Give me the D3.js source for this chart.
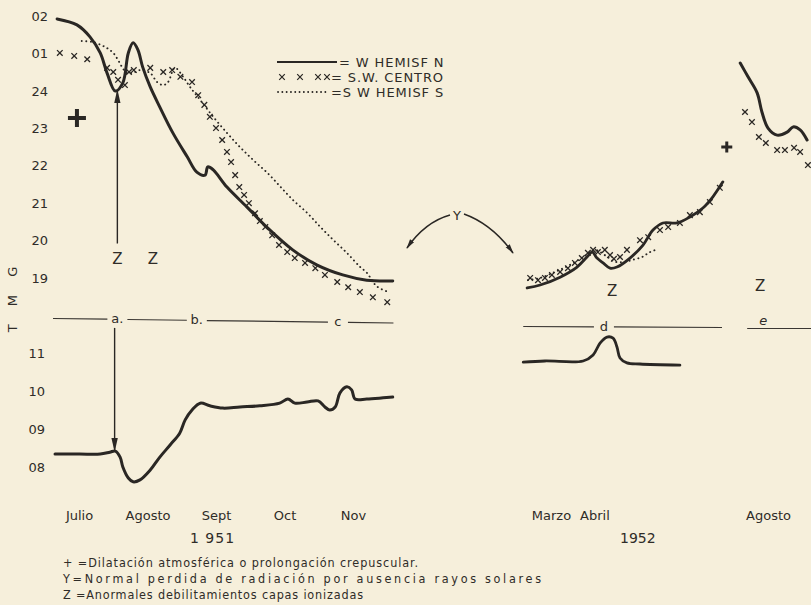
<!DOCTYPE html>
<html><head><meta charset="utf-8">
<script src="https://cdn.jsdelivr.net/npm/d3@7"></script>
<style>
html,body{margin:0;padding:0;background:#f6efdb;}
svg{display:block;}
text{font-family:"DejaVu Sans","Noto Sans",sans-serif;fill:#2f2c28;}
</style></head><body>
<svg id="chart" width="811" height="605"></svg>
<script>
// ---------- DATA ----------
const hourTicks = [19, 20, 21, 22, 23, 24, 25, 26];   // 25 -> "01", 26 -> "02"
const lowTicks = [8, 9, 10, 11];
const months1951 = ["Julio", "Agosto", "Sept", "Oct", "Nov"];
const monthPos1951 = [7.5, 8.5, 9.5, 10.5, 11.5];
const months1952 = ["Marzo", "Abril", "Agosto"];
const monthPos1952 = [3.5, 4.5, 8.5];
const legendLabels = ["= W  HEMISF N", "= S.W. CENTRO", "=S W HEMISF S"];
const footnotes = [
  "+ =Dilatación atmosférica  o prolongación  crepuscular.",
  "Y=Normal perdida de radiación por ausencia rayos  solares",
  "Z =Anormales  debilitamientos capas ionizadas"
];

// 1951 upper panel  [month, hour]
const wHemisfN_1951 = [[7.18,25.93],[7.47,25.77],[7.66,25.45],[7.81,25.02],[7.91,24.48],[8.03,24.0],[8.14,24.22],[8.22,25.02],[8.29,25.29],[8.36,25.10],[8.43,24.64],[8.54,24.11],[8.68,23.57],[8.87,22.88],[9.08,22.24],[9.22,21.83],[9.34,21.75],[9.38,21.97],[9.46,21.89],[9.66,21.43],[9.95,20.90],[10.24,20.36],[10.62,19.75],[10.97,19.35],[11.35,19.08],[11.70,18.94],[12.08,18.92]];
const swCentro_1951 = [[7.22,25.02],[7.43,24.94],[7.62,24.85],[7.91,24.62],[8.0,24.51],[8.07,24.30],[8.17,24.16],[8.23,24.51],[8.30,24.56],[8.54,24.62],[8.73,24.51],[8.86,24.56],[8.98,24.38],[9.15,24.24],[9.24,23.89],[9.33,23.63],[9.41,23.31],[9.50,23.01],[9.59,22.69],[9.66,22.37],[9.72,22.10],[9.78,21.75],[9.84,21.43],[9.91,21.22],[9.98,21.0],[10.07,20.73],[10.14,20.52],[10.22,20.36],[10.32,20.14],[10.42,19.88],[10.54,19.69],[10.65,19.53],[10.80,19.40],[10.95,19.26],[11.09,19.08],[11.27,18.89],[11.43,18.75],[11.60,18.62],[11.79,18.48],[12.0,18.35]];
const swHemisfS_1951 = [[7.54,25.34],[7.70,25.31],[7.88,25.18],[8.0,25.02],[8.07,24.83],[8.13,24.64],[8.20,24.48],[8.32,24.51],[8.39,24.56],[8.54,24.48],[8.64,24.24],[8.73,24.16],[8.80,24.24],[8.90,24.62],[9.02,24.38],[9.12,24.11],[9.27,23.76],[9.46,23.31],[9.66,22.88],[9.85,22.50],[10.04,22.16],[10.25,21.81],[10.44,21.44],[10.62,21.09],[10.83,20.74],[11.02,20.37],[11.21,20.02],[11.41,19.67],[11.60,19.30],[11.70,19.14],[11.85,18.77],[12.04,18.61]];
// 1951 lower panel [month, value]
const lower_1951 = [[7.15,8.34],[7.51,8.34],[7.81,8.34],[7.95,8.39],[8.03,8.42],[8.10,8.26],[8.14,8.0],[8.22,7.71],[8.29,7.61],[8.39,7.66],[8.54,7.92],[8.68,8.26],[8.83,8.58],[8.97,8.89],[9.05,9.24],[9.15,9.50],[9.27,9.68],[9.41,9.61],[9.60,9.55],[9.85,9.58],[10.14,9.61],[10.43,9.68],[10.55,9.79],[10.65,9.68],[10.83,9.71],[10.99,9.74],[11.09,9.58],[11.16,9.50],[11.24,9.58],[11.31,9.95],[11.41,10.11],[11.48,10.03],[11.53,9.79],[11.70,9.79],[11.94,9.82],[12.08,9.84]];

// 1952 (March - July) upper panel
const wHemisfN_1952a = [[2.95,18.73],[3.25,18.81],[3.71,19.02],[4.10,19.29],[4.33,19.56],[4.45,19.69],[4.56,19.53],[4.70,19.40],[4.86,19.26],[5.02,19.29],[5.32,19.53],[5.62,19.88],[5.85,20.28],[6.08,20.47],[6.40,20.47],[6.70,20.63],[7.0,20.87],[7.23,21.17],[7.46,21.57]];
const swCentro_1952a = [[3.02,19.0],[3.20,18.94],[3.36,19.0],[3.52,19.08],[3.71,19.16],[3.89,19.26],[4.05,19.40],[4.21,19.53],[4.35,19.67],[4.47,19.75],[4.58,19.69],[4.74,19.75],[4.86,19.61],[4.95,19.51],[5.09,19.56],[5.25,19.75],[5.55,20.01],[5.74,20.09],[6.01,20.28],[6.20,20.36],[6.47,20.47],[6.70,20.68],[6.93,20.76],[7.16,21.03],[7.39,21.41]];
const swHemisfS_1952a = [[2.97,18.94],[3.25,19.0],[3.59,19.16],[3.94,19.35],[4.28,19.59],[4.51,19.75],[4.74,19.61],[4.98,19.43],[5.21,19.43],[5.37,19.48],[5.60,19.56],[5.78,19.69],[5.97,19.77]];
// 1952 (August) upper panel
const wHemisfN_1952b = [[7.86,24.75],[8.04,24.38],[8.25,23.95],[8.36,23.44],[8.50,23.01],[8.71,22.82],[8.94,22.90],[9.08,23.04],[9.24,22.96],[9.40,22.69]];
const swCentro_1952b = [[7.97,23.44],[8.13,23.17],[8.29,22.77],[8.45,22.61],[8.71,22.42],[8.89,22.42],[9.10,22.48],[9.24,22.37],[9.42,22.02]];
// 1952 lower panel
const lower_1952 = [[2.86,10.76],[3.36,10.79],[4.24,10.79],[4.47,10.95],[4.63,11.26],[4.79,11.42],[4.93,11.39],[5.02,11.16],[5.09,10.87],[5.25,10.74],[5.55,10.71],[6.47,10.68]];

// annotations (data units)
const plus1951 = [[7.47, 23.28]];
const plus1952 = [[7.55, 22.50]];
const zMarks1951 = [[8.06, 19.53], [8.58, 19.53]];
const zMarks1952 = [[4.91, 18.68], [8.32, 18.81]];
const periods1951 = [["a.", 8.06], ["b.", 9.22], ["c", 11.28]];
const periods1952 = [["d", 4.72]];

// ---------- SCALES ----------
const svg = d3.select("#chart");
const ink = "#2a2724";
const x51 = d3.scaleLinear().domain([7, 12]).range([44.75, 387.25]);
const x52 = d3.scaleLinear().domain([3, 9]).range([529.3, 789.7]);
const yU = d3.scaleLinear().domain([19, 26]).range([277.9, 16.3]);
const yL = d3.scaleLinear().domain([8, 11]).range([467, 353]);

svg.append("rect").attr("width", 811).attr("height", 605).attr("fill", "#f6efdb");

// ---------- AXES ----------
const hourFmt = h => h > 24 ? d3.format("02d")(h - 24) : String(h);
function styleAxis(g, size) {
  g.select(".domain").remove();
  g.selectAll("text").attr("font-family", "DejaVu Sans, sans-serif").attr("font-size", size).attr("fill", "#2f2c28");
  g.attr("font-family", null);
}
svg.append("g").attr("transform", "translate(48,0)")
  .call(d3.axisLeft(yU).tickValues(hourTicks).tickFormat(hourFmt).tickSize(0).tickPadding(0))
  .call(g => styleAxis(g, 13));
svg.append("g").attr("transform", "translate(45,0)")
  .call(d3.axisLeft(yL).tickValues(lowTicks).tickFormat(d3.format("02d")).tickSize(0).tickPadding(0))
  .call(g => styleAxis(g, 13));
svg.append("g").attr("transform", "translate(0,511)")
  .call(d3.axisBottom(x51).tickValues(monthPos1951).tickFormat((d, i) => months1951[i]).tickSize(0).tickPadding(0))
  .call(g => styleAxis(g, 13));
svg.append("g").attr("transform", "translate(0,511)")
  .call(d3.axisBottom(x52).tickValues(monthPos1952).tickFormat((d, i) => months1952[i]).tickSize(0).tickPadding(0))
  .call(g => styleAxis(g, 13));

svg.append("text").attr("x", x51(9.45)).attr("y", 543).attr("text-anchor", "middle")
  .attr("font-size", 14).attr("letter-spacing", 1).text("1 951");
svg.append("text").attr("x", x52(5.5)).attr("y", 543).attr("text-anchor", "middle")
  .attr("font-size", 14).text("1952");

svg.append("text").attr("transform", "translate(17,296) rotate(-90)").attr("text-anchor", "middle")
  .attr("font-size", 13).attr("letter-spacing", 7).text("T M G");

// ---------- MARKS ----------
const solid = (xs, ys) => d3.line().x(d => xs(d[0])).y(d => ys(d[1])).curve(d3.curveCatmullRom.alpha(0.5));
function drawSolid(data, xs, ys, w) {
  svg.append("path").datum(data).attr("d", solid(xs, ys)).attr("fill", "none")
    .attr("stroke", ink).attr("stroke-width", w || 3).attr("stroke-linecap", "round").attr("stroke-linejoin", "round");
}
function drawDotted(data, xs, ys) {
  svg.append("path").datum(data).attr("d", solid(xs, ys)).attr("fill", "none")
    .attr("stroke", ink).attr("stroke-width", 1.9).attr("stroke-linecap", "round")
    .attr("stroke-dasharray", "0.1 4.4");
}
const crossPath = "M-2.8,-2.8L2.8,2.8M-2.8,2.8L2.8,-2.8";
function drawCrosses(data, xs, ys) {
  svg.append("g").selectAll("path").data(data).join("path")
    .attr("transform", d => `translate(${xs(d[0])},${ys(d[1])})`)
    .attr("d", crossPath).attr("stroke", ink).attr("stroke-width", 1.3).attr("fill", "none");
}

drawDotted(swHemisfS_1951, x51, yU);
drawCrosses(swCentro_1951, x51, yU);
drawSolid(wHemisfN_1951, x51, yU);
drawSolid(lower_1951, x51, yL);

drawDotted(swHemisfS_1952a, x52, yU);
drawCrosses(swCentro_1952a, x52, yU);
drawSolid(wHemisfN_1952a, x52, yU, 2.8);
drawSolid(wHemisfN_1952b, x52, yU);
drawCrosses(swCentro_1952b, x52, yU);
drawSolid(lower_1952, x52, yL, 2.8);

// plus signs
function drawPlus(data, xs, ys, s, w) {
  svg.append("g").selectAll("path").data(data).join("path")
    .attr("transform", d => `translate(${xs(d[0])},${ys(d[1])})`)
    .attr("d", `M${-s},0L${s},0M0,${-s}L0,${s}`).attr("stroke", ink).attr("stroke-width", w);
}
drawPlus(plus1951, x51, yU, 9, 4);
drawPlus(plus1952, x52, yU, 5.5, 3);

// Z labels
svg.append("g").selectAll("text").data(zMarks1951).join("text")
  .attr("x", d => x51(d[0])).attr("y", d => yU(d[1]) + 6).attr("text-anchor", "middle").attr("font-size", 15).text("Z");
svg.append("g").selectAll("text").data(zMarks1952).join("text")
  .attr("x", d => x52(d[0])).attr("y", d => yU(d[1]) + 6).attr("text-anchor", "middle").attr("font-size", 15).text("Z");

// arrows
const defs = svg.append("defs");
defs.append("marker").attr("id", "ah").attr("viewBox", "0 0 14 8").attr("refX", 13).attr("refY", 4)
  .attr("markerWidth", 14).attr("markerHeight", 8).attr("markerUnits", "userSpaceOnUse").attr("orient", "auto")
  .append("path").attr("d", "M0,0.8L14,4L0,7.2Z").attr("fill", ink);
defs.append("marker").attr("id", "ahs").attr("viewBox", "0 0 10 6").attr("refX", 9).attr("refY", 3)
  .attr("markerWidth", 10).attr("markerHeight", 6).attr("markerUnits", "userSpaceOnUse").attr("orient", "auto")
  .append("path").attr("d", "M0,0.5L10,3L0,5.5Z").attr("fill", ink);

svg.append("line").attr("x1", x51(8.06)).attr("x2", x51(8.06)).attr("y1", yU(19.92)).attr("y2", yU(24.02))
  .attr("stroke", ink).attr("stroke-width", 1.4).attr("marker-end", "url(#ah)");
svg.append("line").attr("x1", x51(8.02)).attr("x2", x51(8.02)).attr("y1", yL(11.66)).attr("y2", yL(8.42))
  .attr("stroke", ink).attr("stroke-width", 1.4).attr("marker-end", "url(#ah)");

// Y annotation with two arcs
svg.append("text").attr("x", 457).attr("y", 220).attr("text-anchor", "middle").attr("font-size", 13).text("Y");
svg.append("path").attr("d", "M450,215 Q425,222 407,248").attr("fill", "none").attr("stroke", ink)
  .attr("stroke-width", 1.5).attr("marker-end", "url(#ahs)");
svg.append("path").attr("d", "M464,214 Q492,224 513,253").attr("fill", "none").attr("stroke", ink)
  .attr("stroke-width", 1.5).attr("marker-end", "url(#ahs)");

// period separator lines
function periodLine(periods, xs, x0, x1, yA, yB) {
  const yAt = x => yA + (yB - yA) * (x - xs(x0)) / (xs(x1) - xs(x0));
  let start = xs(x0);
  const gap = 10;
  periods.forEach(([lab, m]) => {
    const cx = xs(m);
    svg.append("line").attr("x1", start).attr("x2", cx - gap).attr("y1", yAt(start)).attr("y2", yAt(cx - gap))
      .attr("stroke", "#3a3632").attr("stroke-width", 1.2);
    svg.append("text").attr("x", cx).attr("y", yAt(cx) + 4).attr("text-anchor", "middle").attr("font-size", 13).text(lab);
    start = cx + gap;
  });
  svg.append("line").attr("x1", start).attr("x2", xs(x1)).attr("y1", yAt(start)).attr("y2", yAt(xs(x1)))
    .attr("stroke", "#3a3632").attr("stroke-width", 1.2);
}
periodLine(periods1951, x51, 7.12, 12.09, 318.5, 323);
periodLine(periods1952, x52, 2.86, 7.44, 326.5, 327.5);
svg.append("line").attr("x1", x52(8.02)).attr("x2", x52(9.5)).attr("y1", 328.5).attr("y2", 328.5)
  .attr("stroke", "#3a3632").attr("stroke-width", 1.2);
svg.append("text").attr("x", x52(8.39)).attr("y", 325).attr("text-anchor", "middle").attr("font-size", 13)
  .attr("font-style", "italic").text("e");

// ---------- LEGEND ----------
const lg = svg.append("g").attr("transform", "translate(277,62)");
lg.append("line").attr("x1", 0).attr("x2", 60).attr("y1", 0).attr("y2", 0).attr("stroke", ink).attr("stroke-width", 1.8);
lg.selectAll("path.lc").data([5, 23, 41, 50]).join("path").attr("class", "lc")
  .attr("transform", d => `translate(${d},15)`).attr("d", crossPath).attr("stroke", ink).attr("stroke-width", 1.2);
lg.append("line").attr("x1", 1).attr("x2", 52).attr("y1", 30).attr("y2", 30).attr("stroke", ink)
  .attr("stroke-width", 1.8).attr("stroke-linecap", "round").attr("stroke-dasharray", "0.1 4.2");
lg.selectAll("text").data(legendLabels).join("text")
  .attr("x", (d, i) => i === 0 ? 62 : 54).attr("y", (d, i) => i * 15 + 5)
  .attr("font-size", 13).attr("letter-spacing", 0.9).text(d => d);

// ---------- FOOTNOTES ----------
const fnLen = [355, 478, 300];
svg.append("g").selectAll("text").data(footnotes).join("text")
  .attr("x", 63).attr("y", (d, i) => 567 + i * 16).attr("font-size", 12.5)
  .attr("font-stretch", "condensed")
  .attr("textLength", (d, i) => fnLen[i]).attr("lengthAdjust", "spacing").text(d => d);
</script>
</body></html>
